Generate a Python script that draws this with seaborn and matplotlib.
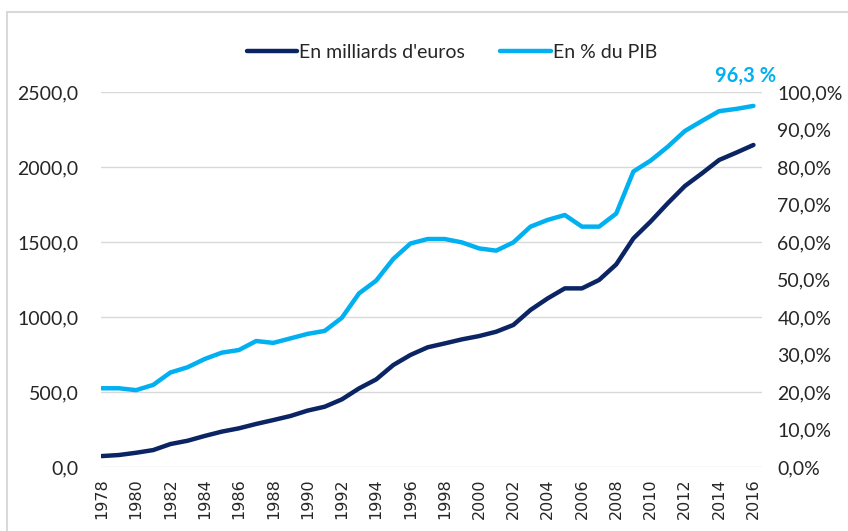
import matplotlib
matplotlib.use('Agg')
import matplotlib.pyplot as plt
import matplotlib.patches as mpatches
from matplotlib.ticker import FuncFormatter
import pandas as pd
import seaborn as sns

# Data
years = list(range(1978, 2017))
debt_bn = [73, 80, 95, 113, 153, 175, 207, 236, 258, 287,
           313, 340, 376, 402, 451, 524, 584, 680, 747, 798,
           824, 851, 873, 902, 947, 1047, 1124, 1191, 1191, 1247,
           1351, 1524, 1636, 1758, 1873, 1958, 2047, 2096, 2147]
debt_pct = [21.0, 21.0, 20.5, 21.9, 25.2, 26.6, 28.8, 30.5, 31.2, 33.6,
            33.1, 34.3, 35.5, 36.3, 39.8, 46.3, 49.7, 55.5, 59.6, 60.8,
            60.8, 59.9, 58.3, 57.7, 59.9, 64.1, 65.9, 67.2, 64.1, 64.1,
            67.6, 78.8, 81.7, 85.4, 89.6, 92.3, 94.9, 95.5, 96.3]
label_bn = "En milliards d'euros"
label_pct = "En % du PIB"
last_label = "96,3 %"

navy = '#0B2463'
light = '#00B0F0'

df = pd.DataFrame({'year': years, 'bn': debt_bn, 'pct': debt_pct})

sns.set_style('white')
plt.rcParams['font.family'] = ['Lato', 'DejaVu Sans']

fig = plt.figure(figsize=(8.48, 5.31), dpi=100)
ax = fig.add_axes([0.119, 0.1205, 0.7796, 0.7062])
ax2 = ax.twinx()

sns.lineplot(data=df, x='year', y='bn', ax=ax, color=navy, linewidth=3.2, label=label_bn, legend=False)
sns.lineplot(data=df, x='year', y='pct', ax=ax2, color=light, linewidth=3.2, label=label_pct, legend=False)

ax.set_xlim(1977.95, 2016.5)
ax.set_ylim(0, 2500)
ax2.set_ylim(0, 100)
ax.set_yticks(range(0, 2501, 500))
ax2.set_yticks(range(0, 101, 10))
ax.yaxis.set_major_formatter(FuncFormatter(lambda v, p: f'{v:.1f}'.replace('.', ',')))
ax2.yaxis.set_major_formatter(FuncFormatter(lambda v, p: f'{v:.1f}%'.replace('.', ',')))
ax.set_xticks(years[::2])
ax.set_xticklabels([str(y) for y in years[::2]], rotation=90, family='DejaVu Sans', fontsize=11.5)

ax.grid(axis='y', color='#D9D9D9', linewidth=1)
ax.set_axisbelow(True)
for a in (ax, ax2):
    for s in a.spines.values():
        s.set_visible(False)
    a.set_xlabel('')
    a.set_ylabel('')
ax.tick_params(axis='y', length=0, labelsize=14, colors='#262626', pad=16)
ax2.tick_params(axis='y', length=0, labelsize=14, colors='#262626', pad=11)
ax.tick_params(axis='x', length=0, colors='#262626', pad=8)

ax2.annotate(last_label, xy=(years[-1], debt_pct[-1]), xytext=(-6, 14),
             textcoords='offset points', ha='center', va='bottom',
             color=light, fontsize=14.5, fontweight='bold')

h1, l1 = ax.get_legend_handles_labels()
h2, l2 = ax2.get_legend_handles_labels()
fig.legend(h1 + h2, l1 + l2, loc='center', bbox_to_anchor=(0.533, 0.902), ncol=2,
           frameon=False, fontsize=14, handlelength=2.6, handletextpad=0.1,
           columnspacing=1.8)

fig.patches.append(mpatches.Rectangle((7 / 848, -0.01), 1.0, 1 - 12 / 531 + 0.01,
                                      transform=fig.transFigure, fill=False,
                                      edgecolor='#D9D9D9', linewidth=1.5))

fig.savefig('out.png', dpi=100)
